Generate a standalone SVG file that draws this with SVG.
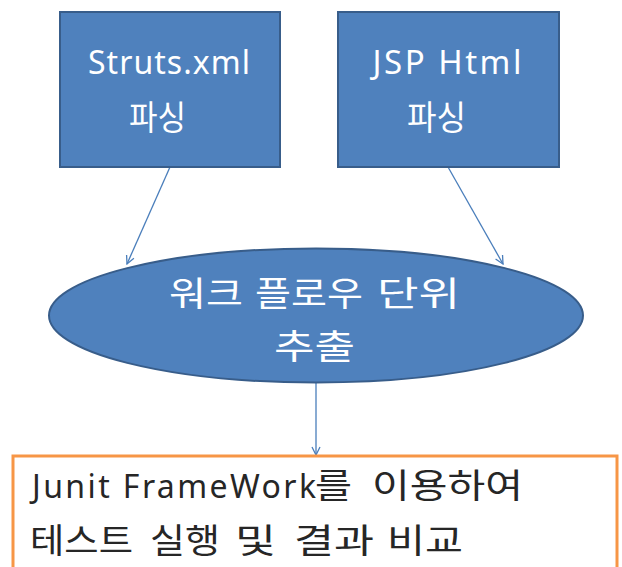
<svg xmlns="http://www.w3.org/2000/svg" width="622" height="567" viewBox="0 0 622 567">
  <defs>
    <style>
      .shape { fill: #4F81BD; stroke: #385D8A; stroke-width: 2; }
      .label { fill: #FFFFFF; font-family: "Noto Sans", "Noto Sans CJK KR", sans-serif; font-size: 32px; text-anchor: middle; }
      .kr { fill: #FFFFFF; font-family: "Noto Sans CJK KR", sans-serif; font-size: 34px; }
      .dark { fill: #262626; font-family: "Noto Sans", "Noto Sans CJK KR", sans-serif; font-size: 32px; }
      .darkkr { fill: #262626; font-family: "Noto Sans CJK KR", sans-serif; font-size: 34px; }
      .link { stroke: #4A7EBB; stroke-width: 1.3; fill: none; marker-end: url(#arrow); }
    </style>
    <marker id="arrow" viewBox="0 0 10 10" refX="9" refY="5" markerWidth="10" markerHeight="10" markerUnits="userSpaceOnUse" orient="auto">
      <path d="M1,1 L9,5 L1,9" fill="none" stroke="#4A7EBB" stroke-width="1.3"/>
    </marker>
  </defs>
  <rect width="622" height="567" fill="#FFFFFF"/>

  <g id="connectors">
    <line class="link" x1="170" y1="167" x2="127" y2="264"/>
    <line class="link" x1="448" y1="167" x2="503" y2="264"/>
    <line class="link" x1="316" y1="383" x2="316" y2="455"/>
  </g>

  <g id="struts-parse">
    <rect class="shape" x="60" y="12" width="220" height="155"/>
    <text class="label" x="169" y="74" textLength="162">Struts.xml</text>
    <text class="kr" x="129" y="130" textLength="57" lengthAdjust="spacingAndGlyphs">파싱</text>
  </g>

  <g id="jsp-parse">
    <rect class="shape" x="338" y="12" width="221" height="155"/>
    <text class="label" x="447" y="74" textLength="149" style="font-size:33px">JSP Html</text>
    <text class="kr" x="407" y="130" textLength="59" lengthAdjust="spacingAndGlyphs">파싱</text>
  </g>

  <g id="workflow-extract">
    <ellipse class="shape" cx="316" cy="315.5" rx="267" ry="67"/>
    <text class="kr" y="306"><tspan x="169" textLength="74" lengthAdjust="spacingAndGlyphs">워크</tspan><tspan x="255" textLength="108" lengthAdjust="spacingAndGlyphs">플로우</tspan><tspan x="377" textLength="83" lengthAdjust="spacingAndGlyphs">단위</tspan></text>
    <text class="kr" x="274" y="359" textLength="81" lengthAdjust="spacingAndGlyphs">추출</text>
  </g>

  <g id="junit-run">
    <rect x="13" y="456" width="604" height="130" fill="#FFFFFF" stroke="#F79646" stroke-width="3"/>
    <text y="498"><tspan class="dark" x="32" textLength="284">Junit FrameWork</tspan><tspan class="darkkr" x="315" textLength="37" lengthAdjust="spacingAndGlyphs">를</tspan><tspan class="darkkr" x="372" textLength="151" lengthAdjust="spacingAndGlyphs">이용하여</tspan></text>
    <text class="darkkr" y="553"><tspan x="30" textLength="103" lengthAdjust="spacingAndGlyphs">테스트</tspan><tspan x="150" textLength="70" lengthAdjust="spacingAndGlyphs">실행</tspan><tspan x="235" textLength="41" lengthAdjust="spacingAndGlyphs">및</tspan><tspan x="294" textLength="80" lengthAdjust="spacingAndGlyphs">결과</tspan><tspan x="387" textLength="76" lengthAdjust="spacingAndGlyphs">비교</tspan></text>
  </g>
</svg>
